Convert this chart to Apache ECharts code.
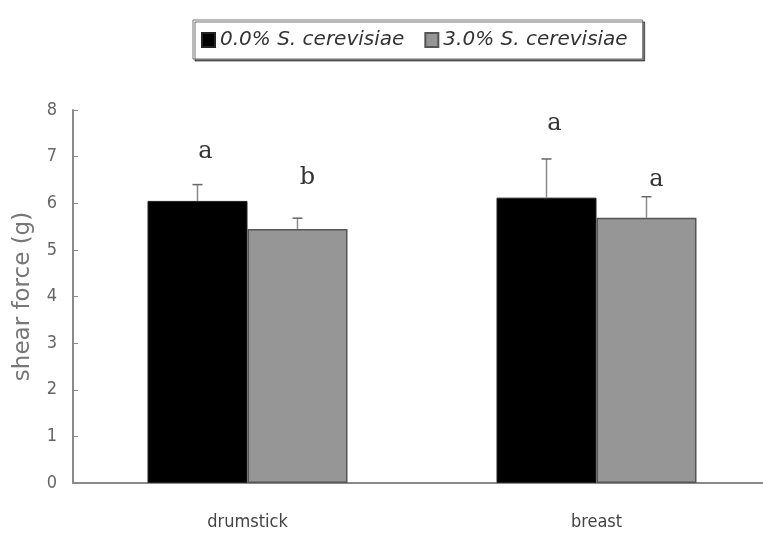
<!DOCTYPE html>
<html>
<head>
<meta charset="utf-8">
<script src="https://cdn.jsdelivr.net/npm/echarts@6/dist/echarts.min.js"></script>
<style>
  html, body { margin: 0; padding: 0; background: #fff; }
  #chart { width: 763px; height: 536px; }
</style>
</head>
<body>
<div id="chart"></div>
<script>
// Shear force of chicken meat by yeast supplementation level
const categories = ['drumstick', 'breast'];
const seriesNames = ['0.0% S. cerevisiae', '3.0% S. cerevisiae'];
const control = [6.05, 6.12];      // 0.0% S. cerevisiae means
const controlSd = [0.35, 0.83];
const yeast = [5.45, 5.69];        // 3.0% S. cerevisiae means
const yeastSd = [0.23, 0.45];
const controlLetters = ['a', 'a'];
const yeastLetters = ['b', 'a'];
const controlLetterY = [7.1, 7.7];  // heights of significance letters
const yeastLetterY = [6.55, 6.5];
const yTicks = [0, 1, 2, 3, 4, 5, 6, 7, 8];

const chart = echarts.init(document.getElementById('chart'));

const narrow = '"DejaVu Sans Condensed", "Liberation Sans Narrow", "Liberation Sans", sans-serif';
const barW = 100;

// Upper error bar with a small cap, drawn through the axes
function errorBar(sd, means, shift) {
  return {
    type: 'custom',
    z: 5,
    silent: true,
    data: means.map((m, i) => [i, m, m + sd[i]]),
    renderItem: function (params, api) {
      const base = api.coord([api.value(0), api.value(1)]);
      const top = api.coord([api.value(0), api.value(2)]);
      const x = base[0] + shift;
      return {
        type: 'group',
        children: [
          { type: 'line', shape: { x1: x, y1: base[1], x2: x, y2: top[1] },
            style: { stroke: '#8a8a8a', lineWidth: 1.5 } },
          { type: 'line', shape: { x1: x - 5, y1: top[1], x2: x + 5, y2: top[1] },
            style: { stroke: '#666', lineWidth: 1.5 } }
        ]
      };
    }
  };
}

// Significance letters above each bar
function letters(text, ys, shift) {
  return {
    type: 'custom',
    z: 6,
    silent: true,
    data: ys.map((y, i) => [i, y]),
    renderItem: function (params, api) {
      const p = api.coord([api.value(0), api.value(1)]);
      return {
        type: 'text',
        style: {
          text: text[params.dataIndex],
          x: p[0] + shift, y: p[1],
          align: 'center', verticalAlign: 'middle',
          font: '24px "DejaVu Serif", "Liberation Serif", serif',
          fill: '#333'
        }
      };
    }
  };
}

chart.setOption({
  animation: false,
  backgroundColor: '#fff',
  legend: {
    top: 20,
    left: 193,
    data: seriesNames,
    icon: 'rect',
    padding: [10, 15, 9, 8],
    itemGap: 20,
    itemWidth: 13,
    itemHeight: 14,
    itemTextGap: 6,
    borderColor: '#777',
    borderWidth: 1,
    shadowColor: 'rgba(0,0,0,0.55)',
    shadowOffsetX: 2,
    shadowOffsetY: 2,
    shadowBlur: 0,
    backgroundColor: '#fff',
    textStyle: {
      fontFamily: '"DejaVu Sans", sans-serif', fontStyle: 'italic', fontSize: 20, color: '#333'
    }
  },
  grid: { left: 73, width: 698, top: 110, bottom: 53, outerBoundsMode: 'none', containLabel: false },
  xAxis: {
    type: 'category',
    data: categories,
    axisLine: { lineStyle: { color: '#8a8a8a', width: 2 } },
    axisTick: { inside: true, length: 6, lineStyle: { color: '#8a8a8a' } },
    axisLabel: { margin: 30, fontSize: 18, color: '#444', fontFamily: narrow }
  },
  yAxis: {
    type: 'value',
    min: yTicks[0],
    max: yTicks[yTicks.length - 1],
    interval: 1,
    name: 'shear force (g)',
    nameLocation: 'middle',
    nameGap: 38,
    nameTextStyle: { fontSize: 23, color: '#777', fontFamily: '"DejaVu Sans", sans-serif' },
    splitLine: { show: false },
    axisLine: { show: true, lineStyle: { color: '#8a8a8a', width: 2 } },
    axisTick: { show: true, inside: true, length: 5, lineStyle: { color: '#8a8a8a' } },
    axisLabel: { margin: 16, fontSize: 18, color: '#666', fontFamily: narrow }
  },
  series: [
    {
      name: seriesNames[0],
      type: 'bar',
      data: control,
      barWidth: barW,
      barGap: '0%',
      itemStyle: { color: '#000', borderColor: '#222', borderWidth: 1 }
    },
    {
      name: seriesNames[1],
      type: 'bar',
      data: yeast,
      barWidth: barW,
      barGap: '0%',
      itemStyle: { color: '#969696', borderColor: '#555', borderWidth: 1.5 }
    },
    errorBar(controlSd, control, -barW / 2),
    errorBar(yeastSd, yeast, barW / 2),
    letters(controlLetters, controlLetterY, -barW / 2 + 8),
    letters(yeastLetters, yeastLetterY, barW / 2 + 10)
  ]
});
</script>
</body>
</html>
